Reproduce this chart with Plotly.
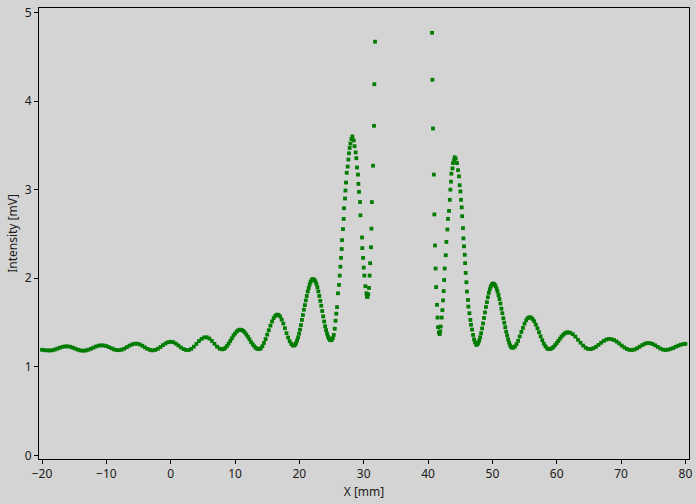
import plotly.graph_objects as go

x_mm = [
    # left flat region
    -20.0, -19.6, -19.2, -18.8, -18.4, -18.0, -17.6, -17.2, -16.8, -16.4,
    -16.0, -15.6, -15.2, -14.8, -14.4, -14.0, -13.6, -13.2, -12.8, -12.4,
    -12.0, -11.6, -11.2, -10.8, -10.4, -10.0, -9.6, -9.2, -8.8, -8.4,
    -8.0, -7.6, -7.2, -6.8, -6.4, -6.0, -5.6, -5.2, -4.8, -4.4,
    -4.0, -3.6, -3.2, -2.8, -2.4, -2.0, -1.6, -1.2, -0.8, -0.4,
    0.0, 0.4, 0.8, 1.2, 1.6, 2.0, 2.4, 2.8, 3.2, 3.6,
    4.0, 4.4, 4.8, 5.2, 5.6, 6.0, 6.4, 6.8, 7.2, 7.6, 8.0,
    8.25, 8.5, 8.75, 9.0, 9.25, 9.5, 9.75, 10.0, 10.25, 10.5, 10.75,
    11.0, 11.25, 11.5, 11.75, 12.0, 12.25, 12.5, 12.75, 13.0, 13.25, 13.5, 13.75,
    14.0, 14.25, 14.5, 14.75, 15.0, 15.25, 15.5, 15.75, 16.0, 16.25, 16.5,
    16.75, 17.0, 17.25, 17.5, 17.75, 18.0, 18.25, 18.5, 18.75, 19.0,
    19.2, 19.35, 19.5, 19.65, 19.8, 19.95, 20.1, 20.25, 20.4, 20.55,
    20.7, 20.85, 21.0, 21.15, 21.3, 21.45, 21.6, 21.75, 21.9, 22.05,
    22.2, 22.35, 22.5, 22.65, 22.8, 22.95, 23.1, 23.25, 23.4, 23.55,
    23.7, 23.85, 24.0, 24.15, 24.3, 24.45, 24.6, 24.75, 24.9, 25.05,
    # left main peak and rise toward the centre
    25.2, 25.35, 25.5, 25.62, 25.74, 25.85, 26.0, 26.16, 26.27, 26.38,
    26.47, 26.58, 26.63, 26.78, 26.89, 26.94, 27.09, 27.16, 27.25, 27.36,
    27.51, 27.62, 27.71, 27.82, 27.93, 28.09, 28.24, 28.45, 28.58, 28.74,
    28.85, 28.96, 29.11, 29.17, 29.27, 29.43, 29.49, 29.74, 29.78, 29.9,
    30.0, 30.1, 30.26, 30.42, 30.51, 30.6, 30.7, 30.82, 30.92, 31.0,
    31.13, 31.2, 31.27, 31.45, 31.6, 31.65, 31.76,
    # right of the centre
    40.62, 40.68, 40.77, 40.9, 40.98, 41.08, 41.17, 41.25, 41.39, 41.48,
    41.56, 41.68, 41.81, 41.89, 41.97, 42.12, 42.23, 42.33, 42.43, 42.5,
    42.59, 42.75, 42.85, 43.0, 43.1, 43.26, 43.38, 43.47, 43.57, 43.63,
    43.79, 43.88, 44.04, 44.14, 44.3, 44.5, 44.66, 44.81, 44.92, 45.03,
    45.12, 45.23, 45.3, 45.43, 45.5, 45.59, 45.7, 45.76, 45.85, 45.96,
    46.05, 46.21, 46.27, 46.43, 46.58, 46.68, 46.84, 47.0, 47.15, 47.3, 47.5,
    47.65, 47.8, 47.95, 48.1, 48.25, 48.4, 48.55, 48.7, 48.85, 49.0,
    49.15, 49.3, 49.45, 49.6, 49.75, 49.9, 50.05, 50.2, 50.35, 50.5,
    50.65, 50.8, 50.95, 51.1, 51.25, 51.4, 51.55, 51.7, 51.85, 52.0,
    52.15, 52.3, 52.45, 52.6, 52.75, 52.9, 53.05,
    # right flat region
    53.25, 53.5, 53.75, 54.0, 54.25, 54.5, 54.75, 55.0, 55.25, 55.5, 55.75,
    56.0, 56.25, 56.5, 56.75, 57.0, 57.25, 57.5, 57.75, 58.0, 58.25, 58.5, 58.75,
    59.0, 59.25, 59.5, 59.75, 60.0, 60.25, 60.5, 60.75, 61.0, 61.25, 61.5, 61.75,
    62.1, 62.5, 62.9, 63.3, 63.7, 64.1, 64.5, 64.9, 65.3, 65.7,
    66.1, 66.5, 66.9, 67.3, 67.7, 68.1, 68.5, 68.9, 69.3, 69.7,
    70.1, 70.5, 70.9, 71.3, 71.7, 72.1, 72.5, 72.9, 73.3, 73.7,
    74.1, 74.5, 74.9, 75.3, 75.7, 76.1, 76.5, 76.9, 77.3, 77.7,
    78.1, 78.5, 78.9, 79.3, 79.7, 80.0,
]

intensity_mv = [
    1.192, 1.188, 1.186, 1.185, 1.187, 1.195, 1.206, 1.217, 1.226, 1.231,
    1.231, 1.226, 1.216, 1.204, 1.193, 1.185, 1.182, 1.185, 1.193, 1.204,
    1.217, 1.230, 1.239, 1.243, 1.241, 1.234, 1.223, 1.209, 1.197, 1.190,
    1.188, 1.194, 1.206, 1.223, 1.240, 1.253, 1.261, 1.261, 1.253, 1.238,
    1.219, 1.203, 1.191, 1.186, 1.191, 1.204, 1.224, 1.245, 1.264, 1.278,
    1.283, 1.278, 1.262, 1.241, 1.218, 1.200, 1.190, 1.190, 1.203, 1.228,
    1.259, 1.291, 1.316, 1.332, 1.334, 1.320, 1.293, 1.260, 1.228, 1.206, 1.198,
    1.202, 1.215, 1.236, 1.262, 1.291, 1.322, 1.353, 1.376, 1.398, 1.413, 1.420,
    1.417, 1.407, 1.390, 1.365, 1.339, 1.310, 1.279, 1.255, 1.231, 1.213, 1.202, 1.200,
    1.209, 1.233, 1.270, 1.313, 1.364, 1.414, 1.465, 1.512, 1.550, 1.576, 1.589,
    1.587, 1.569, 1.534, 1.489, 1.436, 1.380, 1.331, 1.289, 1.257, 1.241,
    1.242, 1.252, 1.270, 1.299, 1.333, 1.375, 1.420, 1.472, 1.530, 1.585,
    1.645, 1.697, 1.750, 1.800, 1.850, 1.890, 1.930, 1.960, 1.980, 1.990,
    1.988, 1.980, 1.962, 1.935, 1.898, 1.852, 1.800, 1.745, 1.690, 1.630,
    1.570, 1.512, 1.458, 1.415, 1.375, 1.342, 1.318, 1.304, 1.300, 1.307,
    1.325, 1.360, 1.430, 1.520, 1.600, 1.674, 1.830, 1.925, 2.030, 2.130,
    2.230, 2.330, 2.430, 2.555, 2.670, 2.790, 2.900, 2.990, 3.080, 3.190,
    3.260, 3.340, 3.410, 3.470, 3.520, 3.570, 3.600, 3.555, 3.490, 3.420,
    3.355, 3.250, 3.170, 3.065, 2.975, 2.860, 2.710, 2.460, 2.340, 2.230,
    2.120, 2.030, 1.910, 1.830, 1.790, 1.790, 1.820, 1.890, 2.030, 2.170,
    2.350, 2.560, 2.860, 3.270, 3.720, 4.190, 4.670,
    4.770, 4.240, 3.690, 3.170, 2.720, 2.370, 2.110, 1.900, 1.700, 1.556,
    1.448, 1.387, 1.370, 1.400, 1.455, 1.556, 1.640, 1.750, 1.855, 1.980,
    2.110, 2.260, 2.410, 2.550, 2.670, 2.760, 2.885, 3.000, 3.090, 3.180,
    3.240, 3.300, 3.335, 3.365, 3.350, 3.300, 3.220, 3.150, 3.050, 2.980,
    2.885, 2.800, 2.700, 2.565, 2.450, 2.360, 2.265, 2.170, 2.060, 1.955,
    1.850, 1.755, 1.680, 1.605, 1.530, 1.475, 1.420, 1.360, 1.310, 1.275, 1.248,
    1.254, 1.270, 1.296, 1.334, 1.380, 1.434, 1.490, 1.552, 1.614, 1.675,
    1.730, 1.786, 1.835, 1.876, 1.907, 1.928, 1.940, 1.938, 1.928, 1.911,
    1.883, 1.850, 1.810, 1.766, 1.715, 1.657, 1.606, 1.549, 1.498, 1.447,
    1.396, 1.353, 1.309, 1.273, 1.244, 1.226, 1.217,
    1.216, 1.229, 1.256, 1.294, 1.343, 1.394, 1.439, 1.487, 1.526, 1.550, 1.560,
    1.556, 1.540, 1.515, 1.477, 1.436, 1.391, 1.344, 1.301, 1.261, 1.231, 1.209, 1.200,
    1.202, 1.210, 1.225, 1.246, 1.268, 1.293, 1.318, 1.341, 1.362, 1.377, 1.386, 1.390,
    1.385, 1.368, 1.341, 1.306, 1.272, 1.240, 1.215, 1.202, 1.201, 1.210,
    1.226, 1.248, 1.271, 1.292, 1.308, 1.315, 1.312, 1.303, 1.286, 1.264,
    1.240, 1.219, 1.202, 1.192, 1.190, 1.196, 1.210, 1.228, 1.246, 1.261,
    1.269, 1.267, 1.259, 1.243, 1.225, 1.207, 1.195, 1.190, 1.194, 1.202,
    1.213, 1.227, 1.240, 1.250, 1.257, 1.260,
]

x_ticks = [-20, -10, 0, 10, 20, 30, 40, 50, 60, 70, 80]
y_ticks = [0, 1, 2, 3, 4, 5]

BG = "#d4d4d4"
FONT = dict(family="Noto Sans, Open Sans, sans-serif", size=12, color="#1a1a1a")

fig = go.Figure(
    go.Scatter(
        x=x_mm,
        y=intensity_mv,
        mode="markers",
        marker=dict(symbol="square", size=3.8, color="#007c00", line=dict(width=0)),
        showlegend=False,
        hoverinfo="x+y",
    )
)

axis_common = dict(
    showline=True,
    linecolor="black",
    linewidth=1,
    mirror=True,
    ticks="outside",
    ticklen=4,
    tickwidth=1,
    tickcolor="black",
    showgrid=False,
    zeroline=False,
    automargin=False,
    tickfont=FONT,
)

fig.update_layout(
    width=696,
    height=504,
    paper_bgcolor=BG,
    plot_bgcolor=BG,
    font=FONT,
    margin=dict(l=39, r=7, t=8, b=45, autoexpand=False),
    xaxis=dict(
        range=[-20.47, 80.56],
        tickvals=x_ticks,
        title=dict(text="X [mm]", font=FONT, standoff=6),
        **axis_common,
    ),
    yaxis=dict(
        range=[-0.04, 5.05],
        tickvals=y_ticks,
        title=dict(text="Intensity [mV]", font=FONT, standoff=4),
        **axis_common,
    ),
)

page_fix = (
    "var d=document.documentElement,b=document.body;"
    "d.style.margin='0';d.style.padding='0';d.style.overflow='hidden';"
    "b.style.margin='0';b.style.padding='0';b.style.overflow='hidden';"
    "b.style.background='" + BG + "';"
)

fig.write_html(
    "out.html",
    config={"displayModeBar": False},
    post_script=page_fix,
)
